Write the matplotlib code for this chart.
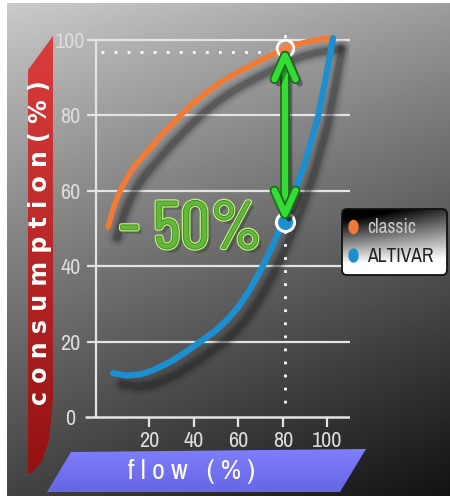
import numpy as np
import matplotlib
matplotlib.use("Agg")
import matplotlib.pyplot as plt
import matplotlib.transforms as mtransforms
import matplotlib.patheffects as pe
from matplotlib.patches import Polygon, FancyBboxPatch, FancyArrowPatch, Ellipse

# curve data: flow (%) vs consumption (%)
classic_flow = [1.5, 3, 4.5, 6, 8, 10, 12.5, 15, 19.5, 25, 33.9, 40, 46, 52, 58, 64, 70, 75, 80, 85, 90.7, 96, 101.5]
classic_cons = [50.5, 53.7, 56.5, 58.8, 61.4, 63.5, 65.8, 67.7, 70.8, 74.5, 80, 83.4, 86.3, 88.8, 90.9, 92.8, 94.6, 96.1, 97.5, 98.6, 99.5, 100.1, 100.6]

altivar_flow = [3.8, 10, 16, 22, 30, 37, 43, 50, 55, 60, 65, 71, 76, 80, 85.5, 90, 96, 99.5, 102.6]
altivar_cons = [11.6, 11.0, 11.3, 12.5, 14.8, 17.5, 20, 23, 25.8, 29.2, 33.6, 40, 46.2, 51.5, 60, 67.5, 80, 90.5, 100.5]

# operating point highlighted by the arrow
mark_flow = 81
mark_classic = 97.9
mark_altivar = 51.8
ref_line = 96.9

x_ticks = [20, 40, 60, 80, 100]
y_ticks = [0, 20, 40, 60, 80, 100]
series_names = ["classic", "ALTIVAR"]
series_colors = ["#f27a35", "#1b8fd0"]
saving_label = "- 50%"

NARROW = ["Archivo Narrow", "Barlow Condensed", "DejaVu Sans"]
CONDENSED = ["Barlow Condensed", "Archivo Narrow", "DejaVu Sans"]

W, H = 450, 496
fig = plt.figure(figsize=(W / 100, H / 100), dpi=100, facecolor="white")

# ---- background layer in pixel coordinates ----
bg = fig.add_axes([0, 0, 1, 1], zorder=0)
yy, xx = np.mgrid[0:1:H * 1j, 0:1:W * 1j]
top = 0.80 + (0.62 - 0.80) * xx
bot = 0.26 + (0.07 - 0.26) * xx
shade = top + (bot - top) * yy ** 0.9
bg.imshow(shade, cmap="gray", vmin=0, vmax=1, extent=(7, W, H, 3),
          aspect="auto", interpolation="bilinear")

# red band behind the y label
red_pts = [(28, 70), (53, 36), (53, 400), (49, 440), (42, 461), (32, 473), (28, 473)]
red_patch = Polygon(red_pts, closed=True, facecolor="none", edgecolor="none")
bg.add_patch(red_patch)
g = np.linspace(0, 1, 200)[:, None, None]
red_img = (1 - g) * np.array([0.86, 0.24, 0.24]) + g * np.array([0.58, 0.07, 0.07])
red_img = np.repeat(red_img, 2, axis=1)
im = bg.imshow(red_img, extent=(27, 54, 474, 35), aspect="auto")
im.set_clip_path(red_patch)
bg.text(40.5, 243, "c o n s u m p t i o n ( % )", rotation=90, ha="center", va="center",
        color="white", fontsize=17, fontweight="bold", family="DejaVu Sans")

# blue band behind the x label
blue_pts = [(71, 452), (366, 449), (340, 492), (47, 492)]
blue_patch = Polygon(blue_pts, closed=True, facecolor="none", edgecolor="none")
bg.add_patch(blue_patch)
blue_img = (1 - g) * np.array([0.50, 0.50, 0.99]) + g * np.array([0.40, 0.40, 0.90])
blue_img = np.repeat(blue_img, 2, axis=1)
im = bg.imshow(blue_img, extent=(45, 368, 493, 448), aspect="auto")
im.set_clip_path(blue_patch)
bg.text(191, 472, "f l o w   ( % )", ha="center", va="center",
        color="white", fontsize=20, family=NARROW)

bg.set_xlim(0, W)
bg.set_ylim(H, 0)
bg.axis("off")

# ---- chart axes ----
ax = fig.add_axes([0.1893, 0.1365, 0.5884, 0.8131], zorder=1)
ax.patch.set_visible(False)
ax.set_xlim(-8.8, 110.2)
ax.set_ylim(-3, 104)
for s in ax.spines.values():
    s.set_visible(False)

grid_c = "#e4e4e4"
ax.hlines(y_ticks[1:], -7.8, 110.2, color=grid_c, lw=1.6, zorder=1)
ax.hlines(0, -8.8, 110.2, color=grid_c, lw=1.8, zorder=1)
ax.vlines(-3.95, 0, 100, color=grid_c, lw=1.6, zorder=1)
ax.vlines(x_ticks, -2.7, 0, color=grid_c, lw=1.6, zorder=1)

ax.set_xticks(x_ticks)
ax.set_yticks(y_ticks)
ax.tick_params(length=0, labelsize=16, labelcolor="#dcdcdc")
ax.tick_params(axis="x", pad=2)
ax.tick_params(axis="y", pad=10.6)
for lab in ax.get_xticklabels() + ax.get_yticklabels():
    lab.set_family(NARROW)
for lab in ax.get_yticklabels():
    lab.set_ha("center")

# soft drop shadows under the curves
shadow_tr = mtransforms.offset_copy(ax.transData, fig=fig, x=9, y=-11, units="dots")
for fx, cy in [(classic_flow, classic_cons), (altivar_flow, altivar_cons)]:
    for lw, a in [(14, 0.06), (10, 0.10), (7, 0.16), (4.5, 0.22)]:
        ax.plot(fx, cy, color="#151515", lw=lw, alpha=a, transform=shadow_tr,
                solid_capstyle="round", zorder=2)

# dotted guides to the operating point
dots = (0, (1, 3.7))
ax.hlines(ref_line, -1.7, mark_flow - 3, color="white", lw=2, linestyles=[dots], zorder=3)
ax.vlines(mark_flow, 3.7, 102.2, color="white", lw=2, linestyles=[dots], zorder=3)

ax.plot(classic_flow, classic_cons, color=series_colors[0], lw=4, solid_capstyle="round", zorder=4)
ax.plot(altivar_flow, altivar_cons, color=series_colors[1], lw=4.5, solid_capstyle="round", zorder=4)

ax.plot(mark_flow, mark_classic, "o", ms=12, mfc=(1, 0.55, 0.3, 0.45), mec="white", mew=2, zorder=5)
ax.plot(mark_flow, mark_altivar, "o", ms=13, mfc=series_colors[1], mec="white", mew=2.2, zorder=5)

arrow = FancyArrowPatch((mark_flow, mark_classic), (mark_flow, mark_altivar),
                        arrowstyle="<->,head_length=0.85,head_width=0.38",
                        mutation_scale=20, lw=4.5, color="#36dc36",
                        shrinkA=0, shrinkB=0, zorder=6)
arrow.set_path_effects([pe.SimpleLineShadow(offset=(3, -3), alpha=0.35),
                        pe.Stroke(linewidth=7, foreground="#1f6b1f"), pe.Normal()])
ax.add_patch(arrow)

ax.text(38.5, 49.2, saving_label, ha="center", va="center", fontsize=48,
        family=CONDENSED, color="#62b83c", zorder=7,
        path_effects=[pe.withSimplePatchShadow(offset=(3, -3), alpha=0.35),
                      pe.withStroke(linewidth=3, foreground="#c4f07a"),
                      pe.withStroke(linewidth=1.2, foreground="#3f8a26")])

# ---- legend box on top ----
fg = fig.add_axes([0, 0, 1, 1], zorder=3)
fg.patch.set_visible(False)
fg.set_xlim(0, W)
fg.set_ylim(H, 0)
fg.axis("off")

box = FancyBboxPatch((342, 209), 105, 66, boxstyle="round,pad=0,rounding_size=5",
                     facecolor="none", edgecolor="#111111", lw=1.3, zorder=2)
fg.add_patch(box)
ly, lx = np.mgrid[0:1:80j, 0:1:120j]
lg = np.clip(-0.25 + 1.5 * ly + 0.45 * lx * (1 - ly), 0, 1)
im = fg.imshow(lg, cmap="gray", vmin=0, vmax=1, extent=(342, 447, 275, 209),
               aspect="auto", interpolation="bilinear", zorder=1)
im.set_clip_path(box)

for i, (name, col) in enumerate(zip(series_names, series_colors)):
    yc = 227 + i * 28.5
    fg.add_patch(Ellipse((353.5, yc), 9, 13, color=col, zorder=3))
    fg.text(367, yc + 0.5, name, ha="left", va="center", fontsize=14, family=NARROW,
            color="#c8c8c8" if i == 0 else "#222222", zorder=3)

fig.savefig("out.png", dpi=100, facecolor="white")
